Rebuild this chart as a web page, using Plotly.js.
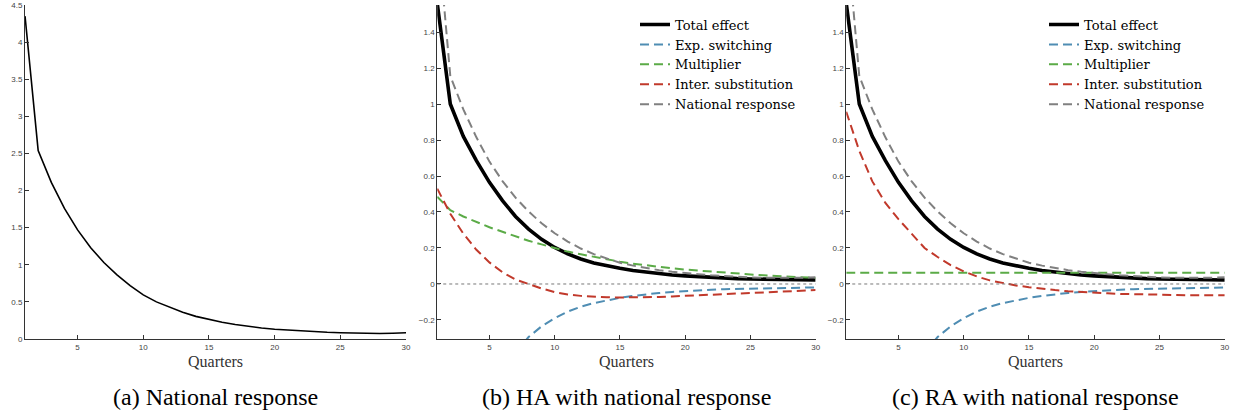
<!DOCTYPE html>
<html>
<head>
<meta charset="utf-8">
<script src="https://cdn.plot.ly/plotly-3.0.1.min.js"></script>
<style>
  body { margin: 0; background: #fff; }
  #container { width: 1239px; height: 418px; }
</style>
</head>
<body>
<div id="container"></div>
<script>
// Квартали (горизонтальна вісь)
const quarters = [1, 2, 3, 4, 5, 6, 7, 8, 9, 10, 11, 12, 13, 14, 15,
  16, 17, 18, 19, 20, 21, 22, 23, 24, 25, 26, 27, 28, 29, 30];

// (a) National response
const nationalResponse = [4.35, 2.54, 2.11, 1.76, 1.47, 1.23, 1.03, 0.865, 0.72, 0.595,
  0.50, 0.425, 0.36, 0.305, 0.26, 0.225, 0.195, 0.168, 0.148, 0.132,
  0.119, 0.107, 0.098, 0.09, 0.084, 0.079, 0.076, 0.075, 0.078, 0.085];

// (b) та (c): спільні ряди
const totalEffect = [1.56, 1.00, 0.82, 0.685, 0.565, 0.463, 0.375, 0.305, 0.248, 0.203,
  0.167, 0.139, 0.117, 0.10, 0.087, 0.075, 0.065, 0.057, 0.05, 0.045,
  0.04, 0.036, 0.033, 0.03, 0.028, 0.026, 0.025, 0.024, 0.023, 0.022];
const expSwitching = [-1.44, -0.955, -0.79, -0.665, -0.56, -0.475, -0.38, -0.295, -0.235, -0.19,
  -0.153, -0.126, -0.106, -0.09, -0.077, -0.066, -0.057, -0.05, -0.044, -0.039,
  -0.035, -0.032, -0.029, -0.027, -0.025, -0.023, -0.022, -0.021, -0.02, -0.019];
const nationalScaled = [1.98, 1.155, 0.97, 0.815, 0.68, 0.572, 0.48, 0.403, 0.337, 0.282,
  0.236, 0.197, 0.166, 0.141, 0.118, 0.102, 0.089, 0.077, 0.068, 0.059,
  0.054, 0.048, 0.043, 0.04, 0.037, 0.035, 0.034, 0.034, 0.035, 0.037];

// (b) HA
const multiplierHA = [0.485, 0.41, 0.375, 0.345, 0.315, 0.29, 0.265, 0.24, 0.22, 0.20,
  0.18, 0.165, 0.15, 0.136, 0.124, 0.113, 0.103, 0.095, 0.087, 0.08,
  0.074, 0.068, 0.062, 0.057, 0.052, 0.048, 0.044, 0.04, 0.037, 0.034];
const interSubHA = [0.53, 0.39, 0.28, 0.19, 0.12, 0.065, 0.025, -0.002, -0.025, -0.045,
  -0.058, -0.066, -0.071, -0.074, -0.075, -0.075, -0.074, -0.072, -0.069, -0.066,
  -0.063, -0.06, -0.057, -0.054, -0.051, -0.048, -0.045, -0.042, -0.038, -0.034];

// (c) RA
const multiplierRA = [0.062, 0.062, 0.062, 0.062, 0.062, 0.062, 0.062, 0.062, 0.062, 0.062,
  0.062, 0.062, 0.062, 0.062, 0.062, 0.062, 0.062, 0.062, 0.062, 0.062,
  0.062, 0.062, 0.062, 0.062, 0.062, 0.062, 0.062, 0.062, 0.062, 0.062];
const interSubRA = [0.957, 0.74, 0.57, 0.45, 0.36, 0.28, 0.20, 0.15, 0.105, 0.07,
  0.042, 0.02, 0.004, -0.008, -0.018, -0.027, -0.034, -0.04, -0.045, -0.049,
  -0.052, -0.055, -0.057, -0.059, -0.06, -0.061, -0.062, -0.062, -0.063, -0.063];

const seriesNames = ["Total effect", "Exp. switching", "Multiplier", "Inter. substitution", "National response"];
const captions = ["(a) National response", "(b) HA with national response", "(c) RA with national response"];

const COLORS = ["#000000", "#4f8db3", "#5bab47", "#c1392b", "#808080"];
const SERIF = "'Liberation Serif', 'Times New Roman', serif";
const LEGEND_SERIF = "'DejaVu Serif', serif";
const SANS = "'Liberation Sans', Arial, sans-serif";

// Побудова набору ліній для панелі з розкладом
const panelTraces = (xa, ya, legend, series) => {
  return series.map((s, i) => ({
    x: quarters,
    y: s,
    xaxis: xa,
    yaxis: ya,
    mode: "lines",
    type: "scatter",
    name: seriesNames[i],
    legend: legend,
    line: i == 0
      ? { color: COLORS[0], width: 3.6 }
      : { color: COLORS[i], width: 2, dash: "9px,5px" }
  }));
};

const axisStyle = (domain, extra) => Object.assign({
  domain: domain,
  showgrid: false,
  zeroline: false,
  showline: true,
  linecolor: "#333",
  linewidth: 1,
  ticks: "inside",
  ticklen: 4,
  tickcolor: "#333",
  tickfont: { family: SANS, size: 8, color: "#444" }
}, extra);

const xDomains = [[0.0202, 0.3277], [0.3529, 0.6583], [0.6830, 0.9885]];
const yDomain = [0.189, 0.988];

const start = () => {
  let data = [{
    x: quarters,
    y: nationalResponse,
    mode: "lines",
    type: "scatter",
    showlegend: false,
    line: { color: "#000", width: 1.6 }
  }];
  data = data.concat(panelTraces("x2", "y2", "legend",
    [totalEffect, expSwitching, multiplierHA, interSubHA, nationalScaled]));
  data = data.concat(panelTraces("x3", "y3", "legend2",
    [totalEffect, expSwitching, multiplierRA, interSubRA, nationalScaled]));

  const xTicks = { range: [1, 30], tickvals: [5, 10, 15, 20, 25, 30] };
  const yTicksBC = { range: [-0.3056, 1.55], tickvals: [-0.2, 0, 0.2, 0.4, 0.6, 0.8, 1, 1.2, 1.4] };

  const legendStyle = (x) => ({
    x: x, y: 0.977, xanchor: "left", yanchor: "top",
    bgcolor: "rgba(0,0,0,0)",
    font: { family: LEGEND_SERIF, size: 13, color: "#000" },
    tracegroupgap: 0
  });

  const annotations = [];
  captions.forEach((c, i) => {
    annotations.push({
      text: c, xref: "paper", yref: "paper",
      x: (xDomains[i][0] + xDomains[i][1]) / 2, y: 1 - 397 / 418,
      xanchor: "center", yanchor: "middle", showarrow: false,
      font: { family: SERIF, size: 24, color: "#000" }
    });
    annotations.push({
      text: "Quarters", xref: "paper", yref: "paper",
      x: (xDomains[i][0] + xDomains[i][1]) / 2, y: 1 - 361 / 418,
      xanchor: "center", yanchor: "middle", showarrow: false,
      font: { family: SERIF, size: 16, color: "#333" }
    });
  });

  const zeroLine = (xr, yr) => ({
    type: "line", xref: xr + " domain", yref: yr,
    x0: 0, x1: 1, y0: 0, y1: 0,
    line: { color: "#777", width: 1, dash: "dot" }
  });

  const layout = {
    width: 1239,
    height: 418,
    margin: { l: 0, r: 0, t: 0, b: 0 },
    paper_bgcolor: "#fff",
    plot_bgcolor: "#fff",
    xaxis: axisStyle(xDomains[0], Object.assign({ anchor: "y" }, xTicks)),
    yaxis: axisStyle(yDomain, { anchor: "x", range: [0, 4.5], dtick: 0.5 }),
    xaxis2: axisStyle(xDomains[1], Object.assign({ anchor: "y2" }, xTicks)),
    yaxis2: axisStyle(yDomain, Object.assign({ anchor: "x2" }, yTicksBC)),
    xaxis3: axisStyle(xDomains[2], Object.assign({ anchor: "y3" }, xTicks)),
    yaxis3: axisStyle(yDomain, Object.assign({ anchor: "x3" }, yTicksBC)),
    legend: legendStyle(635 / 1239),
    legend2: legendStyle(1044 / 1239),
    shapes: [zeroLine("x2", "y2"), zeroLine("x3", "y3")],
    annotations: annotations
  };

  Plotly.newPlot("container", data, layout, { staticPlot: true });
};

start();
</script>
</body>
</html>
